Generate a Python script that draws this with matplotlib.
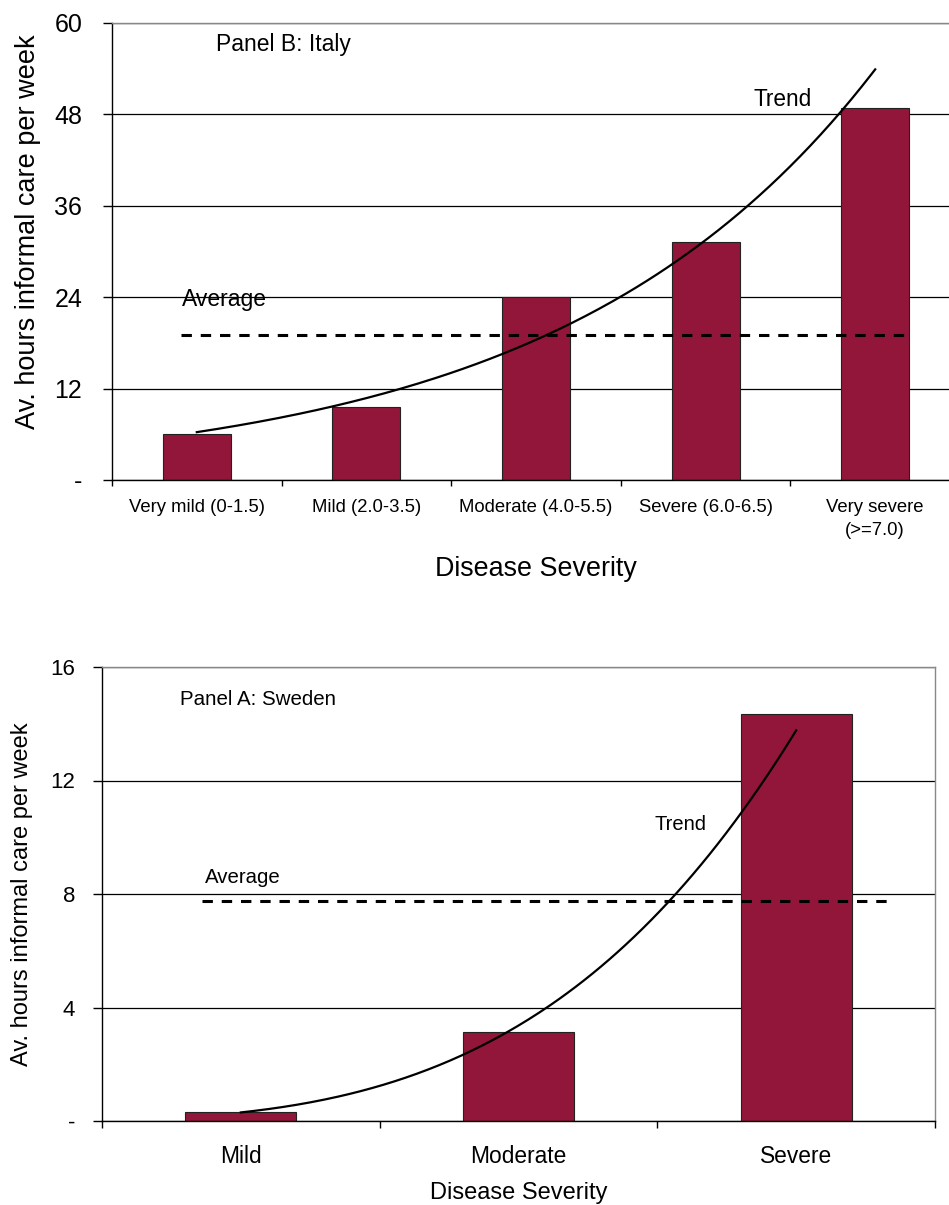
import numpy as np
import matplotlib
matplotlib.use("Agg")
import matplotlib.pyplot as plt

plt.rcParams['font.family'] = ['Liberation Sans', 'DejaVu Sans']

# ---------------- data ----------------
italy_categories = ["Very mild (0-1.5)", "Mild (2.0-3.5)", "Moderate (4.0-5.5)",
                    "Severe (6.0-6.5)", "Very severe\n(>=7.0)"]
italy_hours = [6.0, 9.6, 24.0, 31.3, 48.8]
italy_average = 19.1
italy_yticks = [0, 12, 24, 36, 48, 60]
italy_yticklabels = ["-", "12", "24", "36", "48", "60"]

sweden_categories = ["Mild", "Moderate", "Severe"]
sweden_hours = [0.31, 3.15, 14.35]
sweden_average = 7.75
sweden_yticks = [0, 4, 8, 12, 16]
sweden_yticklabels = ["-", "4", "8", "12", "16"]

BAR_COLOR = "#921639"
W, H = 949, 1205

fig = plt.figure(figsize=(W / 100, H / 100), dpi=100)


def px_axes(left, right, top, bottom):
    return fig.add_axes([left / W, 1 - bottom / H, (right - left) / W, (bottom - top) / H])


def style_axes(ax, n, yticks, yticklabels, ytick_size, ypad, ytick_len, xtick_size, xpad, xtick_len, cats):
    ax.set_xlim(-0.5, n - 0.5)
    ax.set_ylim(yticks[0], yticks[-1])
    ax.set_yticks(yticks)
    ax.set_yticklabels(yticklabels, fontsize=ytick_size)
    ax.tick_params(axis='y', direction='out', length=ytick_len, width=1.0, pad=ypad, colors='black')
    # boundaries as major ticks, labels at centres as minor ticks
    ax.set_xticks(np.arange(-0.5, n, 1.0))
    ax.set_xticklabels([])
    ax.set_xticks(np.arange(n), minor=True)
    ax.set_xticklabels(cats, minor=True, fontsize=xtick_size, linespacing=1.45)
    ax.tick_params(axis='x', which='major', direction='out', length=xtick_len, width=1.0)
    ax.tick_params(axis='x', which='minor', length=0, pad=xpad)
    for t in ax.get_xticklabels(minor=True):
        t.set_verticalalignment('top')
    ax.grid(axis='y', color='black', linewidth=0.9)
    ax.set_axisbelow(True)
    ax.spines['left'].set_color('black')
    ax.spines['bottom'].set_color('black')
    ax.spines['top'].set_color('#888888')
    ax.spines['right'].set_color('#888888')
    for s in ax.spines.values():
        s.set_linewidth(1.0)


# ---------------- top panel: Italy ----------------
ax1 = px_axes(112, 960, 23, 480)
x1 = np.arange(len(italy_hours))
ax1.bar(x1, italy_hours, width=0.4, color=BAR_COLOR, edgecolor='#222222', linewidth=0.8, zorder=2)
style_axes(ax1, len(italy_hours), italy_yticks, italy_yticklabels, 18, 15, 6.5, 13.3, 14, 4.5, italy_categories)

# exponential trendline fitted to the bar values (as in the spreadsheet chart)
b1, a1 = np.polyfit(x1 + 1, np.log(italy_hours), 1)
xs1 = np.linspace(1, len(italy_hours), 200)
ax1.plot(xs1 - 1, np.exp(a1 + b1 * xs1), color='black', lw=1.6, zorder=3)
ax1.plot([-0.094, 4.21], [italy_average, italy_average], color='black', lw=2.2,
         dashes=(3.4, 2.9), zorder=3)
ax1.text(0.112, 57.2, "Panel B: Italy", fontsize=16.5, va='center', ha='left')
ax1.text(-0.088, 23.7, "Average", fontsize=16.5, va='center', ha='left')
ax1.text(3.284, 49.9, "Trend", fontsize=16.3, va='center', ha='left')

fig.text(28 / W, 1 - 231.5 / H, "Av. hours informal care per week", rotation=90,
         fontsize=19.5, ha='center', va='center')
fig.text(536 / W, 1 - 569 / H, "Disease Severity", fontsize=19.4, ha='center', va='center')

# ---------------- bottom panel: Sweden ----------------
ax2 = px_axes(102, 935, 667, 1121)
x2 = np.arange(len(sweden_hours))
ax2.bar(x2, sweden_hours, width=0.4, color=BAR_COLOR, edgecolor='#222222', linewidth=0.8, zorder=2)
style_axes(ax2, len(sweden_hours), sweden_yticks, sweden_yticklabels, 16, 13, 6.5, 16.4, 17, 5, sweden_categories)

# power trendline fitted to the bar values
b2, a2 = np.polyfit(np.log(x2 + 1), np.log(sweden_hours), 1)
xs2 = np.linspace(1, len(sweden_hours), 200)
ax2.plot(xs2 - 1, np.exp(a2) * xs2 ** b2, color='black', lw=1.6, zorder=3)
ax2.plot([-0.14, 2.33], [sweden_average, sweden_average], color='black', lw=2.2,
         dashes=(3.4, 2.9), zorder=3)
ax2.text(-0.219, 14.84, "Panel A: Sweden", fontsize=14.8, va='center', ha='left')
ax2.text(-0.129, 8.57, "Average", fontsize=14.7, va='center', ha='left')
ax2.text(1.488, 10.45, "Trend", fontsize=14.5, va='center', ha='left')

fig.text(22 / W, 1 - 894.5 / H, "Av. hours informal care per week", rotation=90,
         fontsize=17, ha='center', va='center')
fig.text(518.5 / W, 1 - 1193 / H, "Disease Severity", fontsize=17, ha='center', va='center')

fig.savefig("out.png", dpi=100)
